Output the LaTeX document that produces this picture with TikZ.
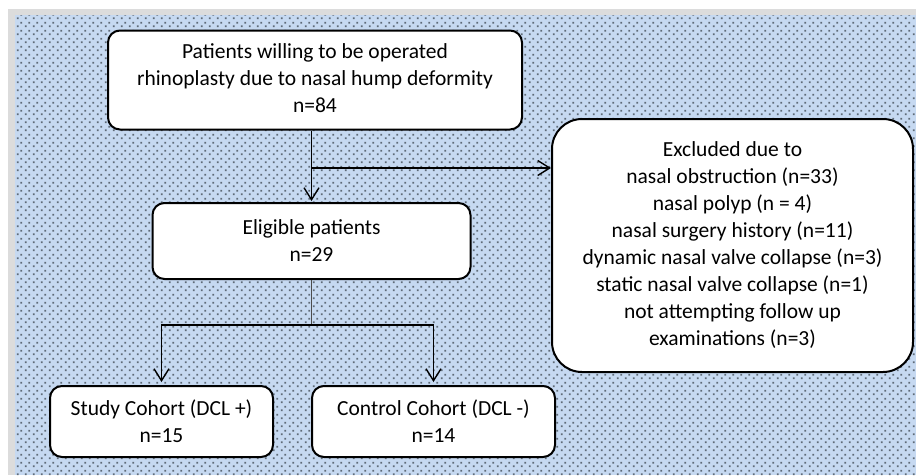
\documentclass[tikz,border=0pt]{standalone}
\usepackage{fontspec}
\setmainfont{Carlito}
\usetikzlibrary{positioning, arrows.meta, patterns, calc}
\definecolor{bgblue}{HTML}{C6D9F1}
\definecolor{dotgray}{HTML}{5F6B78}
\definecolor{framegray}{HTML}{DCDCDC}
\pgfdeclarepatternformonly{bluedots}{\pgfpointorigin}{\pgfpoint{8pt}{8pt}}{\pgfpoint{8pt}{8pt}}{%
  \pgfpathrectangle{\pgfpoint{1pt}{1pt}}{\pgfpoint{2pt}{2pt}}%
  \pgfpathrectangle{\pgfpoint{5pt}{5pt}}{\pgfpoint{2pt}{2pt}}%
  \pgfusepath{fill}}

\begin{document}
\begin{tikzpicture}[x=1pt, y=-1pt, >={Straight Barb[length=12pt, width=15pt]},
    every node/.style={font=\fontsize{21.5}{27}\selectfont},
    flowbox/.style={draw, line width=2pt, fill=white, rounded corners=12pt, align=center, inner sep=0pt},
    link/.style={line width=1.4pt}]
    % frame and dotted background
    \useasboundingbox (0,0) rectangle (916,475);
    \fill[white] (0,0) rectangle (916,475);
    \fill[framegray] (8,9) rectangle (916,475);
    \fill[bgblue] (15,15) rectangle (916,475);
    \fill[pattern=bluedots, pattern color=dotgray] (15,15) rectangle (916,475);

    \node[flowbox, minimum width=414pt, minimum height=99pt] (patients) at (315,80)
        {\raisebox{-3pt}{\begin{tabular}{@{}c@{}}Patients willing to be operated\\rhinoplasty due to nasal hump deformity\\n=84\end{tabular}}};
    \node[flowbox, minimum width=318pt, minimum height=76pt] (eligible) at (311.5,241)
        {Eligible patients\\n=29};
    \node[flowbox, rounded corners=30pt, minimum width=361pt, minimum height=253pt] (excluded) at (732.5,245.5)
        {Excluded due to\\nasal obstruction (n=33)\\nasal polyp (n = 4)\\nasal surgery history (n=11)\\dynamic nasal valve collapse (n=3)\\static nasal valve collapse (n=1)\\not attempting follow up\\examinations (n=3)};
    \node[flowbox, minimum width=223pt, minimum height=71pt] (study) at (161.5,421.5)
        {Study Cohort (DCL +)\\n=15};
    \node[flowbox, minimum width=243pt, minimum height=71pt] (control) at (433.5,421.5)
        {Control Cohort (DCL -)\\n=14};

    \coordinate (branch) at (311.5,168);
    \coordinate (split) at (311.5,325);

    \draw[link, ->, shorten >=1pt] (patients.south -| eligible.north) -- (eligible.north);
    \draw[link, ->] (branch) -- (branch -| excluded.west);
    \draw[line width=0.8pt, black!70] (eligible.south) -- (split);
    \draw[link, ->, shorten >=3pt] (split) -| (study.north);
    \draw[link, ->, shorten >=3pt] (split) -| (control.north);
\end{tikzpicture}
\end{document}
